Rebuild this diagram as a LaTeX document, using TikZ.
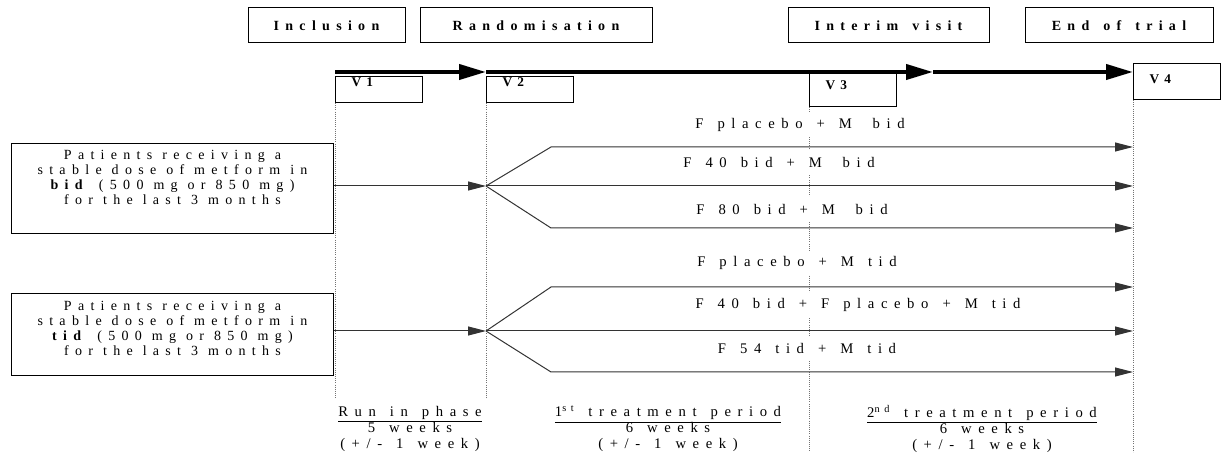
\documentclass[tikz,border=0pt]{standalone}
\usepackage{fontspec}
\setmainfont{Liberation Serif}[LetterSpace=45]
\usetikzlibrary{arrows.meta,positioning}

\newlength{\pu}
\setlength{\pu}{0.75pt}
\newcommand{\wgap}{\hspace{7.5pt}}
\newcommand{\agap}{\hspace{10.5pt}}

\tikzset{
  hdbox/.style={draw, line width=1\pu, font=\fontsize{10.5}{12}\selectfont\bfseries,
    minimum height=35\pu, inner sep=0pt},
  vbox/.style={draw, line width=1\pu, font=\bfseries, anchor=north west, inner sep=0pt,
    inner xsep=16\pu, text width=55\pu, align=left},
  patbox/.style={draw, line width=1\pu, anchor=north west, inner sep=0pt,
    text width=322\pu, align=center, font=\fontsize{10.5}{11.25}\selectfont},
  armlbl/.style={fill=white, inner sep=2pt, minimum height=24\pu, font=\fontsize{11}{12}\selectfont},
  vline/.style={densely dotted, black!55, line width=0.8\pu},
  tline/.style={line width=3pt, -{Triangle[length=20.25pt, width=11.25pt]}},
  arm/.style={line width=0.75pt, black!80, -{Triangle[length=13.5pt, width=6.75pt]}},
  period/.style={align=center, inner sep=0pt, font=\fontsize{11}{12}\selectfont}
}

\begin{document}
\begin{tikzpicture}[x=1\pu, y=-1\pu, font=\fontsize{10}{11.25}\selectfont]
  \useasboundingbox (0,0) rectangle (1229,459);

  % Phases
  \node[hdbox, minimum width=157\pu] (incl) at (326.5,25.5) {Inclusion};
  \node[hdbox, minimum width=232\pu] (rand) at (536,25.5) {Randomisation};
  \node[hdbox, minimum width=201\pu] (interim) at (888.5,25.5) {Interim\agap visit};
  \node[hdbox, minimum width=188\pu] (eot) at (1119,25.5) {End\agap of\agap trial};

  % Visits
  \node[vbox, text height=10\pu, text depth=16\pu] (v1) at (335,76) {V\hspace{4pt}1};
  \node[vbox, text height=10\pu, text depth=16\pu] (v2) at (486,76) {V\hspace{4pt}2};
  \node[vbox, text height=18\pu, text depth=17\pu] (v3) at (809,71) {V\hspace{4pt}3};
  \node[vbox, text height=20\pu, text depth=16\pu] (v4) at (1133,63) {V\hspace{4pt}4};

  % Time line
  \coordinate (t1) at (335,72);
  \coordinate (t2) at (486,72);
  \coordinate (t3) at (933,72);
  \coordinate (t4) at (1133,72);
  \draw[tline] (t1) -- (t2);
  \draw[tline] (t2) -- (t3);
  \draw[tline] (t3) -- (t4);

  % Visit lines
  \draw[vline] (v1.south west) -- (335,398);
  \draw[vline] (v2.south west) -- (486,398);
  \draw[vline] (v3.south west) -- (809,452);
  \draw[vline] (v4.south west) -- (1133,452);

  % Patient groups
  \node[patbox, text height=16\pu, text depth=74\pu] (pat1) at (11,143)
    {Patients\wgap receiving\wgap a\\stable\wgap dose\wgap of\wgap metform\wgap in\\
     \textbf{bid}\wgap (500\wgap mg\wgap or\wgap 850\wgap mg)\\for\wgap the\wgap last\wgap 3\wgap months};
  \node[patbox, text height=17\pu, text depth=65\pu] (pat2) at (11,293)
    {Patients\wgap receiving\wgap a\\stable\wgap dose\wgap of\wgap metform\wgap in\\
     \textbf{tid}\wgap (500\wgap mg\wgap or\wgap 850\wgap mg)\\for\wgap the\wgap last\wgap 3\wgap months};

  % Treatment arms, bid
  \node[armlbl] (a11) at (800,125) {F\agap placebo\agap +\agap M\agap\hspace{5pt}bid};
  \node[armlbl] (a12) at (779,162) {F\agap 40\agap bid\agap +\agap M\agap\hspace{5pt}bid};
  \node[armlbl] (a13) at (792,209) {F\agap 80\agap bid\agap +\agap M\agap\hspace{5pt}bid};

  % Treatment arms, tid
  \node[armlbl] (a21) at (797,263) {F\agap placebo\agap +\agap M\agap tid};
  \node[armlbl] (a22) at (858,305) {F\agap 40\agap bid\agap +\agap F\agap placebo\agap +\agap M\agap tid};
  \node[armlbl] (a23) at (807,348) {F\agap 54\agap tid\agap +\agap M\agap tid};

  \coordinate (b1) at (486,186);
  \coordinate (k11) at (551,147);
  \coordinate (k13) at (551,228);
  \coordinate (b2) at (486,331);
  \coordinate (k21) at (551,287);
  \coordinate (k23) at (551,372);

  \draw[arm] (pat1.east |- b1) -- (b1);
  \draw[arm] (b1) -- (k11) -- (v4.south west |- k11);
  \draw[arm] (b1) -- (v4.south west |- b1);
  \draw[arm] (b1) -- (k13) -- (v4.south west |- k13);

  \draw[arm] (pat2.east |- b2) -- (b2);
  \draw[arm] (b2) -- (k21) -- (v4.south west |- k21);
  \draw[arm] (b2) -- (v4.south west |- b2);
  \draw[arm] (b2) -- (k23) -- (v4.south west |- k23);

  % Periods
  \node[period] (run) at (410,429) {\underline{Run\agap in\agap phase}\\5\agap weeks\\(+/-\agap 1\agap week)};
  \node[period] (per1) at (668,429) {\underline{1\textsuperscript{st}\agap treatment\agap period}\\6\agap weeks\\(+/-\agap 1\agap week)};
  \node[period] (per2) at (982,429) {\underline{2\textsuperscript{nd}\agap treatment\agap period}\\6\agap weeks\\(+/-\agap 1\agap week)};
\end{tikzpicture}
\end{document}
